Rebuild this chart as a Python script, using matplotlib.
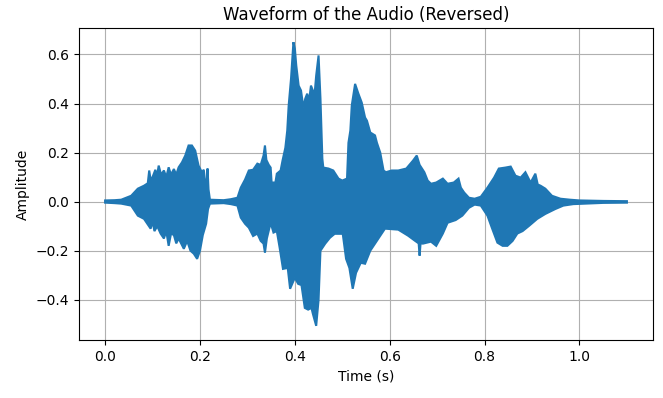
import numpy as np
import matplotlib
matplotlib.use("Agg")
import matplotlib.pyplot as plt

# upper envelope of the waveform
t_upper = [0.0, 0.02, 0.034, 0.055, 0.069, 0.082, 0.090, 0.093, 0.096, 0.100, 0.106, 0.109,
           0.113, 0.118, 0.124, 0.129, 0.134, 0.139, 0.145, 0.150, 0.155, 0.162, 0.169, 0.176,
           0.183, 0.190, 0.197, 0.204, 0.208, 0.211, 0.214, 0.216, 0.218, 0.221, 0.25, 0.265,
           0.279, 0.286, 0.295, 0.303, 0.312, 0.321, 0.328, 0.334, 0.337, 0.340, 0.345, 0.349,
           0.351, 0.359, 0.362, 0.370, 0.374, 0.380, 0.384, 0.387, 0.392, 0.397, 0.400, 0.403,
           0.408, 0.413, 0.418, 0.422, 0.426, 0.430, 0.434, 0.438, 0.441, 0.445, 0.450, 0.454,
           0.458, 0.460, 0.471, 0.481, 0.492, 0.500, 0.510, 0.513, 0.517, 0.520, 0.527, 0.534,
           0.541, 0.548, 0.552, 0.559, 0.569, 0.573, 0.580, 0.587, 0.592, 0.604, 0.618, 0.635,
           0.649, 0.657, 0.663, 0.673, 0.680, 0.687, 0.698, 0.712, 0.722, 0.735, 0.745, 0.750,
           0.757, 0.767, 0.779, 0.792, 0.806, 0.820, 0.830, 0.844, 0.855, 0.865, 0.876, 0.886,
           0.897, 0.907, 0.912, 0.918, 0.928, 0.942, 0.960, 0.980, 1.0, 1.05, 1.1]
a_upper = [0.005, 0.006, 0.008, 0.024, 0.053, 0.065, 0.075, 0.127, 0.09, 0.10, 0.13, 0.10,
           0.147, 0.11, 0.127, 0.10, 0.14, 0.11, 0.133, 0.11, 0.14, 0.16, 0.188, 0.229,
           0.229, 0.208, 0.147, 0.12, 0.13, 0.08, 0.07, 0.135, 0.05, 0.008, 0.006, 0.01,
           0.016, 0.057, 0.09, 0.127, 0.13, 0.155, 0.15, 0.188, 0.229, 0.17, 0.15, 0.139,
           0.078, 0.078, 0.114, 0.127, 0.167, 0.22, 0.29, 0.392, 0.502, 0.65, 0.624, 0.555,
           0.473, 0.453, 0.384, 0.42, 0.44, 0.412, 0.473, 0.453, 0.424, 0.514, 0.596, 0.42,
           0.175, 0.139, 0.135, 0.127, 0.094, 0.086, 0.094, 0.24, 0.29, 0.392, 0.48, 0.44,
           0.404, 0.343, 0.33, 0.282, 0.27, 0.24, 0.2, 0.127, 0.12, 0.127, 0.127, 0.135,
           0.167, 0.188, 0.15, 0.12, 0.086, 0.073, 0.078, 0.094, 0.073, 0.078, 0.094, 0.057,
           0.037, 0.016, 0.012, 0.02, 0.057, 0.098, 0.135, 0.139, 0.143, 0.106, 0.098, 0.12,
           0.078, 0.114, 0.07, 0.065, 0.053, 0.024, 0.012, 0.008, 0.005, 0.003, 0.002]

# lower envelope
t_lower = [0.0, 0.02, 0.034, 0.055, 0.069, 0.082, 0.096, 0.100, 0.104, 0.110, 0.117, 0.124,
           0.129, 0.134, 0.139, 0.145, 0.150, 0.155, 0.166, 0.173, 0.180, 0.187, 0.194, 0.200,
           0.206, 0.213, 0.217, 0.221, 0.25, 0.265, 0.279, 0.286, 0.295, 0.303, 0.312, 0.321,
           0.328, 0.334, 0.337, 0.341, 0.349, 0.355, 0.362, 0.368, 0.375, 0.385, 0.390, 0.400,
           0.407, 0.414, 0.421, 0.428, 0.435, 0.438, 0.445, 0.450, 0.454, 0.464, 0.474, 0.484,
           0.501, 0.508, 0.515, 0.522, 0.529, 0.539, 0.548, 0.559, 0.569, 0.580, 0.590, 0.618,
           0.639, 0.653, 0.661, 0.663, 0.665, 0.670, 0.687, 0.698, 0.712, 0.722, 0.739, 0.753,
           0.767, 0.779, 0.792, 0.806, 0.816, 0.827, 0.838, 0.848, 0.859, 0.869, 0.880, 0.894,
           0.911, 0.928, 0.949, 0.966, 0.987, 1.05, 1.1]
a_lower = [-0.004, -0.006, -0.008, -0.016, -0.057, -0.07, -0.11, -0.08, -0.12, -0.10, -0.13, -0.15,
           -0.12, -0.18, -0.13, -0.136, -0.17, -0.15, -0.192, -0.16, -0.20, -0.212, -0.233, -0.20,
           -0.136, -0.09, -0.03, -0.008, -0.006, -0.01, -0.016, -0.065, -0.09, -0.106, -0.14, -0.13,
           -0.16, -0.171, -0.208, -0.15, -0.086, -0.126, -0.12, -0.188, -0.274, -0.27, -0.355, -0.31,
           -0.335, -0.34, -0.433, -0.44, -0.433, -0.457, -0.506, -0.40, -0.20, -0.171, -0.147, -0.131,
           -0.131, -0.233, -0.27, -0.355, -0.29, -0.249, -0.253, -0.20, -0.171, -0.139, -0.11, -0.114,
           -0.139, -0.159, -0.17, -0.22, -0.17, -0.171, -0.163, -0.18, -0.13, -0.086, -0.075, -0.057,
           -0.025, -0.012, -0.016, -0.057, -0.11, -0.167, -0.18, -0.18, -0.16, -0.13, -0.12, -0.098,
           -0.07, -0.05, -0.03, -0.016, -0.01, -0.005, -0.004]

fig, ax = plt.subplots(figsize=(6.63, 3.98), dpi=100)
fig.subplots_adjust(left=79/663, right=653/663, top=1-28/398, bottom=1-340/398)

xs = np.r_[t_upper, t_lower[::-1]]
ys = np.r_[a_upper, a_lower[::-1]]
ax.fill(xs, ys, color='#1f77b4', linewidth=1.5, edgecolor='#1f77b4', zorder=2)

ax.set_title('Waveform of the Audio (Reversed)')
ax.set_xlabel('Time (s)')
ax.set_ylabel('Amplitude')
ax.grid(True)

plt.savefig('out.png', dpi=100)
